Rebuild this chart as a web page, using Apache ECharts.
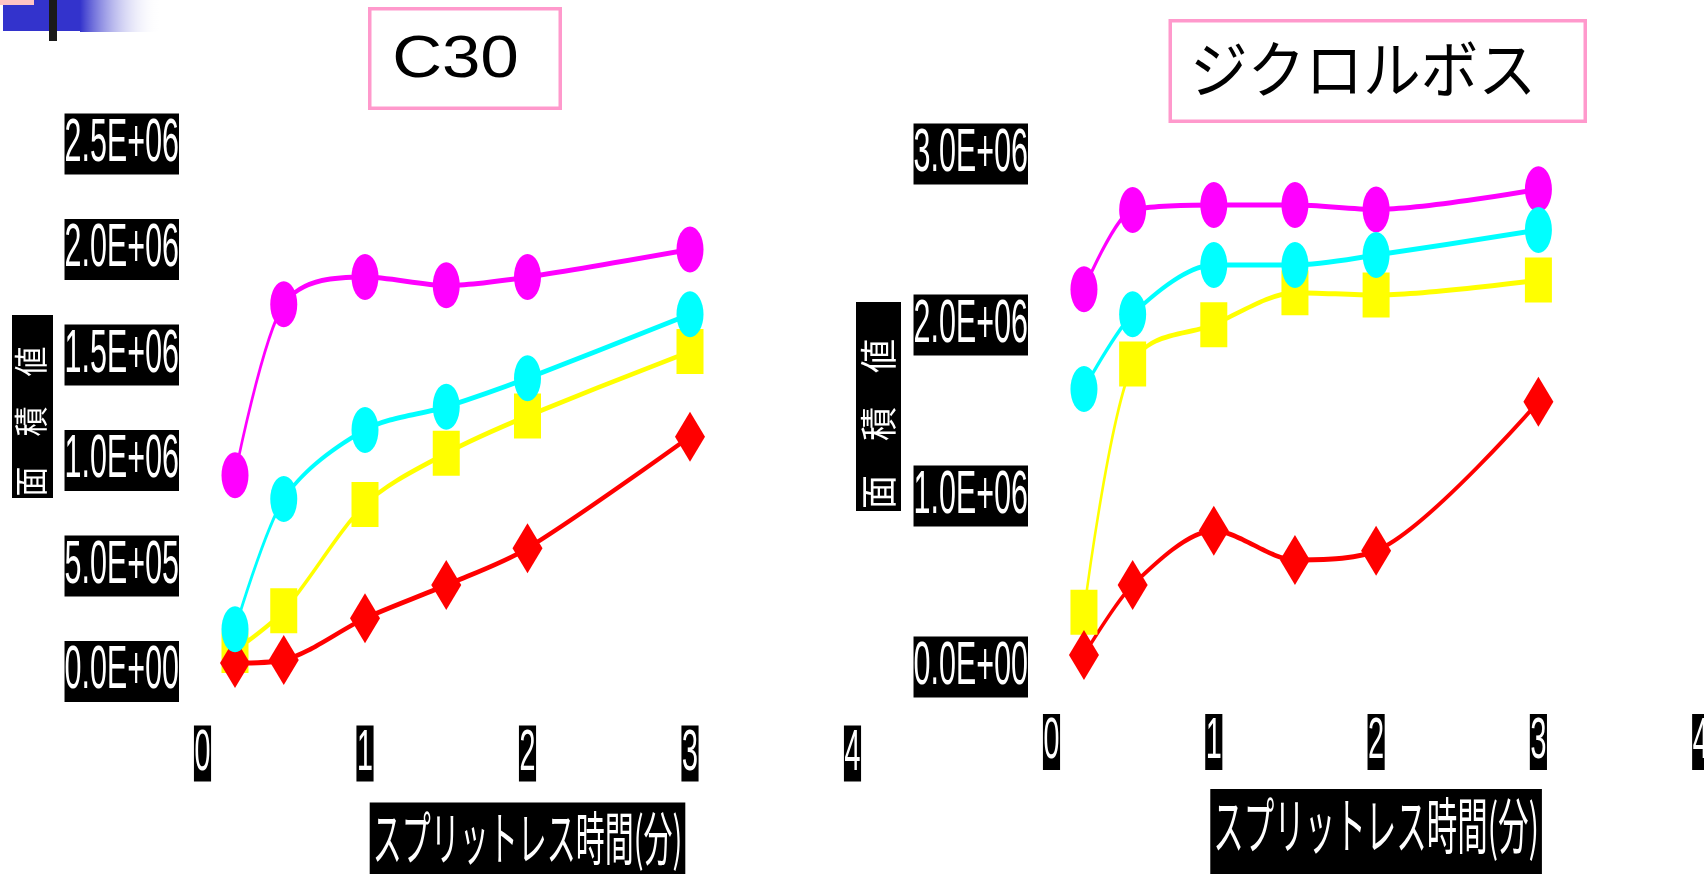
<!DOCTYPE html>
<html>
<head>
<meta charset="utf-8">
<script src="https://cdn.jsdelivr.net/npm/echarts@6/dist/echarts.min.js"></script>
<style>
  html, body { margin: 0; padding: 0; width: 1704px; height: 874px; overflow: hidden; background: #fff; }
  /* The slide artwork is horizontally condensed: draw at double width, then squeeze. */
  #chart { width: 3408px; height: 874px; transform: scaleX(0.5); transform-origin: 0 0; }
</style>
</head>
<body>
<div id="chart"></div>
<script>
// Splitless time (min) at which each peak area was measured
const xValues = [0.2, 0.5, 1, 1.5, 2, 3];

// C30 peak areas
const c30Magenta = [0.93e6, 1.74e6, 1.87e6, 1.83e6, 1.87e6, 2.00e6];
const c30Cyan    = [0.20e6, 0.817e6, 1.145e6, 1.255e6, 1.39e6, 1.693e6];
const c30Yellow  = [0.10e6, 0.288e6, 0.791e6, 1.034e6, 1.211e6, 1.516e6];
const c30Red     = [0.04e6, 0.055e6, 0.252e6, 0.41e6, 0.584e6, 1.113e6];

// ジクロルボス peak areas
const dvMagenta = [2.209e6, 2.673e6, 2.702e6, 2.702e6, 2.676e6, 2.794e6];
const dvCyan    = [1.626e6, 2.063e6, 2.351e6, 2.351e6, 2.409e6, 2.556e6];
const dvYellow  = [0.32e6, 1.772e6, 2.002e6, 2.189e6, 2.175e6, 2.263e6];
const dvRed     = [0.07e6, 0.48e6, 0.797e6, 0.626e6, 0.68e6, 1.551e6];

// Tick labels
const xTickLabels = ['0', '1', '2', '3', '4'];
const c30YTickLabels = ['0.0E+00', '5.0E+05', '1.0E+06', '1.5E+06', '2.0E+06', '2.5E+06'];
const dvYTickLabels = ['0.0E+00', '1.0E+06', '2.0E+06', '3.0E+06'];

const titles = ['C30', 'ジクロルボス'];
const xAxisName = 'スプリットレス時間(分)';
const yAxisName = '面　積　値';

const NUM_FONT = "'Liberation Sans', Arial, sans-serif";
const JP_FONT = "'Noto Sans CJK JP', sans-serif";

const MAGENTA = '#ff00ff', CYAN = '#00ffff', YELLOW = '#ffff00', RED = '#ff0000';
const PINK = '#ff99cc';

function lineSeries(name, idx, values, color, symbol, size) {
  return {
    name: name,
    type: 'line',
    xAxisIndex: idx,
    yAxisIndex: idx,
    data: xValues.map((x, i) => [x, values[i]]),
    smooth: 0.3,
    symbol: symbol,
    symbolSize: size,
    showSymbol: true,
    clip: false,
    lineStyle: { color: color, width: 5 },
    itemStyle: { color: color }
  };
}

function xAxisFor(idx, gap, nameSize) {
  return {
    type: 'value', gridIndex: idx, min: 0, max: 4, interval: 1,
    axisLine: { show: false }, axisTick: { show: false }, splitLine: { show: false },
    axisLabel: {
      showMinLabel: true, showMaxLabel: true,
      formatter: v => xTickLabels[Math.round(v)],
      color: '#fff', backgroundColor: '#000',
      fontFamily: NUM_FONT, fontSize: 58, lineHeight: 56, padding: [0, 1],
      margin: idx === 0 ? 54 : 47
    },
    name: xAxisName, nameLocation: 'middle', nameGap: gap,
    nameTextStyle: {
      color: '#fff', backgroundColor: '#000', fontFamily: JP_FONT,
      fontSize: nameSize, padding: [6, 6, 24, 6]
    }
  };
}

function yAxisFor(idx, max, interval, labels) {
  return {
    type: 'value', gridIndex: idx, min: 0, max: max, interval: interval,
    axisLine: { show: false }, axisTick: { show: false }, splitLine: { show: false },
    axisLabel: {
      showMinLabel: true, showMaxLabel: true,
      formatter: v => labels[Math.round(v / interval)],
      color: '#fff', backgroundColor: '#000',
      fontFamily: NUM_FONT, fontSize: 61, lineHeight: 61, padding: [0, 0],
      margin: 47
    }
  };
}

function titleBox(x, y, w, h) {
  return [
    { type: 'rect', shape: { x: x, y: y, width: w, height: h }, style: { fill: PINK }, silent: true },
    { type: 'rect', shape: { x: x + 7, y: y + 3.5, width: w - 14, height: h - 7 }, style: { fill: '#fff' }, silent: true }
  ];
}

function yNameBox(x, y, w, h, cx, cy, size, sy) {
  return [
    { type: 'rect', shape: { x: x, y: y, width: w, height: h }, style: { fill: '#000' }, silent: true },
    {
      type: 'text', x: cx, y: cy, rotation: Math.PI / 2, scaleY: sy, silent: true,
      style: { text: yAxisName, fill: '#fff', fontFamily: JP_FONT, fontSize: size, align: 'center', verticalAlign: 'middle' }
    }
  ];
}

const chart = echarts.init(document.getElementById('chart'));

chart.setOption({
  animation: false,
  backgroundColor: '#fff',
  grid: [
    { left: 405, top: 144, width: 1300, height: 527.5, containLabel: false, outerBoundsMode: 'none' },
    { left: 2103, top: 154, width: 1298.4, height: 513, containLabel: false, outerBoundsMode: 'none' }
  ],
  xAxis: [xAxisFor(0, 131, 58), xAxisFor(1, 122, 61)],
  yAxis: [yAxisFor(0, 2.5e6, 5e5, c30YTickLabels), yAxisFor(1, 3e6, 1e6, dvYTickLabels)],
  series: [
    lineSeries('C30-yellow', 0, c30Yellow, YELLOW, 'rect', [54, 45]),
    lineSeries('C30-red', 0, c30Red, RED, 'diamond', [60, 50]),
    lineSeries('C30-magenta', 0, c30Magenta, MAGENTA, 'circle', [54, 46]),
    lineSeries('C30-cyan', 0, c30Cyan, CYAN, 'circle', [54, 46]),
    lineSeries('DV-yellow', 1, dvYellow, YELLOW, 'rect', [54, 45]),
    lineSeries('DV-red', 1, dvRed, RED, 'diamond', [60, 50]),
    lineSeries('DV-magenta', 1, dvMagenta, MAGENTA, 'circle', [54, 46]),
    lineSeries('DV-cyan', 1, dvCyan, CYAN, 'circle', [54, 46])
  ],
  graphic: [
    // slide corner ornament
    { type: 'rect', shape: { x: 6, y: 0, width: 154, height: 31 }, style: { fill: '#3333cc' }, silent: true },
    {
      type: 'rect', shape: { x: 160, y: 0, width: 160, height: 32 }, silent: true,
      style: { fill: new echarts.graphic.LinearGradient(0, 0, 1, 0, [
        { offset: 0, color: '#3333cc' }, { offset: 1, color: 'rgba(255,255,255,0)' }
      ]) }
    },
    { type: 'rect', shape: { x: 0, y: 0, width: 68, height: 5 }, style: { fill: '#ffc4c4' }, silent: true },
    { type: 'rect', shape: { x: 98, y: 0, width: 16, height: 41 }, style: { fill: '#1a1a1a' }, silent: true },

    // chart titles
    ...titleBox(736, 7, 388, 103),
    {
      type: 'text', x: 911, y: 60, scaleX: 2.3, silent: true,
      style: { text: titles[0], fill: '#000', fontFamily: NUM_FONT, fontSize: 60, align: 'center', verticalAlign: 'middle' }
    },
    ...titleBox(2337, 19, 837, 104),
    {
      type: 'text', x: 2726, y: 69, scaleX: 1.86, silent: true,
      style: { text: titles[1], fill: '#000', fontFamily: JP_FONT, fontSize: 62, align: 'center', verticalAlign: 'middle' }
    },

    // vertical value-axis titles
    ...yNameBox(24, 315, 82, 183, 62, 421.5, 30, 2.3),
    ...yNameBox(1712, 302, 90, 209, 1757, 424, 34, 2.2)
  ]
});
</script>
</body>
</html>
